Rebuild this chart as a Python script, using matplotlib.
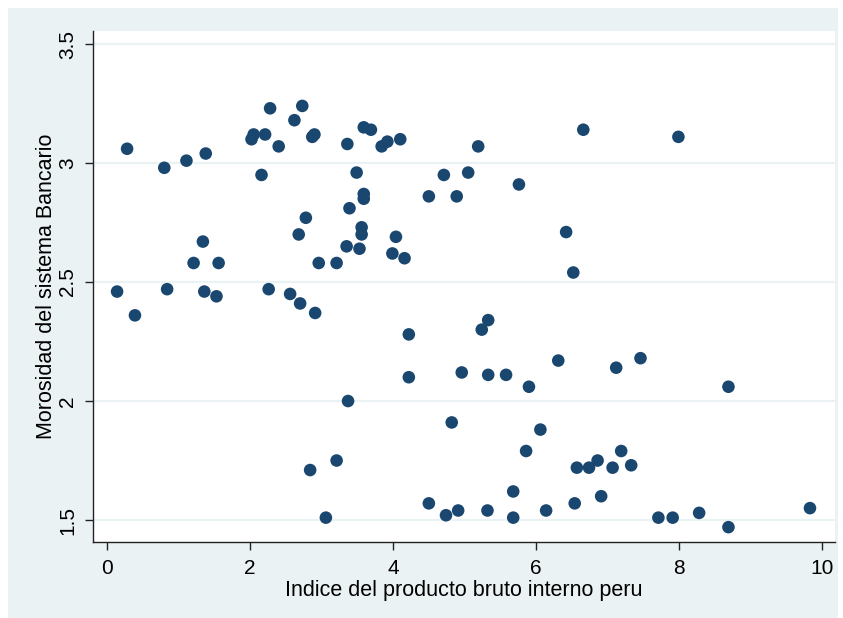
import matplotlib
matplotlib.use('Agg')
import matplotlib.pyplot as plt
from matplotlib.patches import Rectangle

plt.rcParams['font.family'] = ['Liberation Sans', 'DejaVu Sans']

# indice del PBI (x) y morosidad (y)
pbi = [0.14, 0.28, 0.39, 0.80, 0.84, 1.11, 1.21, 1.34, 1.38, 1.36,
       1.53, 1.56, 2.02, 2.05, 2.16, 2.21, 2.26, 2.28, 2.40, 2.56,
       2.62, 2.68, 2.70, 2.73, 2.78, 2.84, 2.87, 2.90, 2.91, 2.96,
       3.06, 3.21, 3.21, 3.36, 3.35, 3.37, 3.39, 3.49, 3.53, 3.56,
       3.56, 3.59, 3.59, 3.59, 3.69, 3.84, 3.92, 3.99, 4.04, 4.10,
       4.16, 4.22, 4.22, 4.50, 4.50, 4.71, 4.74, 4.82, 4.89, 4.91,
       4.96, 5.05, 5.19, 5.24, 5.33, 5.33, 5.32, 5.58, 5.68, 5.68,
       5.76, 5.86, 5.90, 6.06, 6.14, 6.31, 6.42, 6.54, 6.52, 6.57,
       6.66, 6.74, 6.86, 6.91, 7.07, 7.12, 7.19, 7.33, 7.46, 7.71,
       7.91, 7.99, 8.28, 8.69, 8.69, 9.83]
morosidad = [2.46, 3.06, 2.36, 2.98, 2.47, 3.01, 2.58, 2.67, 3.04, 2.46,
             2.44, 2.58, 3.10, 3.12, 2.95, 3.12, 2.47, 3.23, 3.07, 2.45,
             3.18, 2.70, 2.41, 3.24, 2.77, 1.71, 3.11, 3.12, 2.37, 2.58,
             1.51, 1.75, 2.58, 3.08, 2.65, 2.00, 2.81, 2.96, 2.64, 2.73,
             2.70, 2.87, 2.85, 3.15, 3.14, 3.07, 3.09, 2.62, 2.69, 3.10,
             2.60, 2.28, 2.10, 2.86, 1.57, 2.95, 1.52, 1.91, 2.86, 1.54,
             2.12, 2.96, 3.07, 2.30, 2.34, 2.11, 1.54, 2.11, 1.62, 1.51,
             2.91, 1.79, 2.06, 1.88, 1.54, 2.17, 2.71, 1.57, 2.54, 1.72,
             3.14, 1.72, 1.75, 1.60, 1.72, 2.14, 1.79, 1.73, 2.18, 1.51,
             1.51, 3.11, 1.53, 2.06, 1.47, 1.55]

xticks = [0, 2, 4, 6, 8, 10]
yticks = [1.5, 2, 2.5, 3, 3.5]
ytick_labels = ['1.5', '2', '2.5', '3', '3.5']

bg = '#EAF2F3'
navy = '#1A476F'

fig = plt.figure(figsize=(8.43, 6.18), dpi=100)
fig.patch.set_facecolor('white')
fig.patches.append(Rectangle((8 / 843, 0), 830 / 843, 610 / 618,
                             transform=fig.transFigure, facecolor=bg,
                             edgecolor='none', zorder=-10))

ax = fig.add_axes([0.1109, 0.1235, 0.8796, 0.8268])
ax.set_facecolor('white')
ax.scatter(pbi, morosidad, s=82, color=navy, edgecolors='none', zorder=3)

ax.set_xlim(-0.19, 10.18)
ax.set_ylim(1.409, 3.556)
ax.set_xticks(xticks, [str(v) for v in xticks])
ax.set_yticks(yticks, ytick_labels)
ax.grid(axis='y', color=bg, linewidth=1.6, zorder=0)
ax.set_axisbelow(True)

for side in ['top', 'right']:
    ax.spines[side].set_visible(False)
for side in ['left', 'bottom']:
    ax.spines[side].set_color('#222222')
    ax.spines[side].set_linewidth(1.0)

ax.tick_params(axis='both', direction='out', length=5.8, width=1.0,
               color='#222222', labelsize=15)
ax.tick_params(axis='x', pad=7)
ax.tick_params(axis='y', pad=6)
for t in ax.get_yticklabels():
    t.set_rotation(90)
    t.set_va('center')

ax.set_xlabel('Indice del producto bruto interno peru', fontsize=15.5, labelpad=1)
ax.set_ylabel('Morosidad del sistema Bancario', fontsize=15.5, labelpad=1)

fig.savefig('out.png', dpi=100)
